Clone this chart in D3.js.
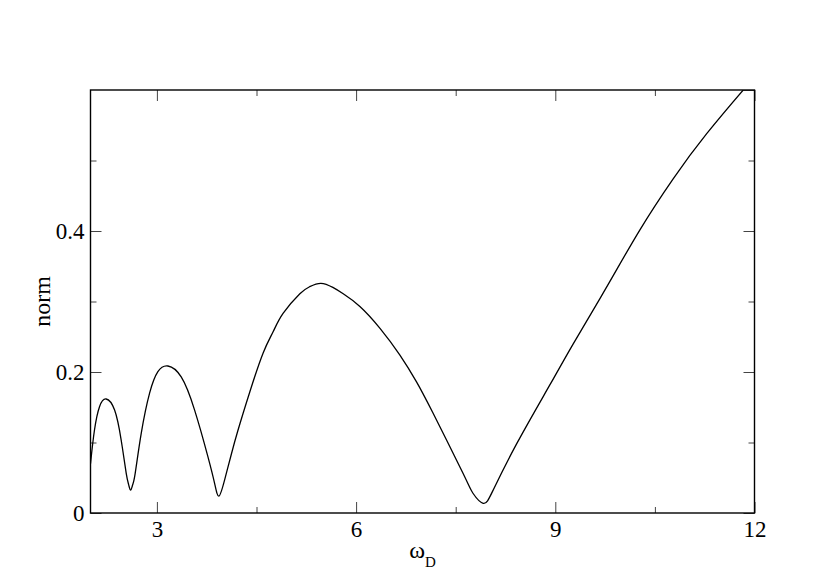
<!DOCTYPE html>
<html>
<head>
<meta charset="utf-8">
<script src="https://cdn.jsdelivr.net/npm/d3@7"></script>
<style>
  body { margin: 0; background: #fff; }
  svg { display: block; }
</style>
</head>
<body>
<svg width="830" height="587"></svg>
<script>
// values
var omega = [2.00, 2.06, 2.137, 2.236, 2.363, 2.462, 2.538, 2.575, 2.604, 2.635, 2.673, 2.764, 2.89,
             3.015, 3.166, 3.366, 3.568, 3.768, 3.869, 3.934, 4.02, 4.12, 4.22, 4.40, 4.60, 4.75, 4.90,
             5.153, 5.30, 5.47, 5.65, 5.806, 6.057, 6.36, 6.66, 6.91, 7.16, 7.61, 7.76, 7.914, 8.065, 8.417, 8.92,
             9.27, 9.77, 10.27, 10.775, 11.28, 11.84, 12.0];
var norm = [0.070, 0.1177, 0.151, 0.1617, 0.146, 0.1035, 0.0563, 0.040, 0.0326, 0.040, 0.0563, 0.113, 0.170,
            0.2005, 0.2085, 0.193, 0.146, 0.080, 0.042, 0.024, 0.047, 0.083, 0.117, 0.172, 0.227, 0.257, 0.283,
            0.311, 0.321, 0.3258, 0.320, 0.311, 0.293, 0.262, 0.224, 0.186, 0.1414, 0.0563, 0.028, 0.0137, 0.0326, 0.098, 0.182,
            0.240, 0.320, 0.401, 0.474, 0.538, 0.601, 0.618];

var xMajor = [3, 6, 9, 12];
var xMinor = [4.5, 7.5, 10.5];
var yMajor = [0, 0.2, 0.4];
var yMinor = [0.1, 0.3, 0.5];
var yMajorAll = [0, 0.2, 0.4, 0.6];

var serif = "'Liberation Serif', 'Times New Roman', Times, serif";

var margin = { top: 90, right: 75.5, bottom: 74, left: 90.5 };
var width = 830 - margin.left - margin.right;
var height = 587 - margin.top - margin.bottom;

var svg = d3.select("svg");
var g = svg.append("g")
	.attr("transform", "translate(" + margin.left + "," + margin.top + ")");

var x = d3.scaleLinear().domain([2, 12]).range([0, width]);
var y = d3.scaleLinear().domain([0, 0.6]).range([height, 0]);

var fmt = function(d) { return d === 0 ? "0" : d3.format(".1f")(d); };

// bottom axis, ticks pointing inward
var xAxis = g.append("g")
	.attr("transform", "translate(0," + height + ")")
	.call(d3.axisBottom(x).tickValues(xMajor).tickSize(-11).tickFormat(d3.format("d")));
xAxis.selectAll(".tick text").attr("y", 24).attr("dy", null);
g.append("g")
	.attr("transform", "translate(0," + height + ")")
	.call(d3.axisBottom(x).tickValues(xMinor).tickSize(-6).tickFormat(""));

// top axis
g.append("g")
	.call(d3.axisTop(x).tickValues(xMajor).tickSize(-11).tickFormat(""));
g.append("g")
	.call(d3.axisTop(x).tickValues(xMinor).tickSize(-6).tickFormat(""));

// left axis
var yAxis = g.append("g")
	.call(d3.axisLeft(y).tickValues(yMajor).tickSize(-11).tickFormat(fmt));
yAxis.selectAll(".tick text").attr("x", -6).attr("dy", "0.33em");
g.append("g")
	.call(d3.axisLeft(y).tickValues(yMinor).tickSize(-6).tickFormat(""));

// right axis
g.append("g")
	.attr("transform", "translate(" + width + ",0)")
	.call(d3.axisRight(y).tickValues(yMajorAll).tickSize(-11).tickFormat(""));
g.append("g")
	.attr("transform", "translate(" + width + ",0)")
	.call(d3.axisRight(y).tickValues(yMinor).tickSize(-6).tickFormat(""));

g.selectAll(".domain").remove();
g.selectAll(".tick line").attr("stroke", "#444").attr("stroke-width", 1);
g.selectAll(".tick text")
	.style("font-family", serif)
	.style("font-size", "23px")
	.attr("fill", "#000");

// clip the curve to the frame
g.append("clipPath").attr("id", "clip")
	.append("rect").attr("width", width).attr("height", height);

var pts = omega.map(function(w, i) { return { w: w, v: norm[i] }; });
var line = d3.line()
	.x(function(d) { return x(d.w); })
	.y(function(d) { return y(d.v); })
	.curve(d3.curveNatural);

g.append("path")
	.datum(pts)
	.attr("clip-path", "url(#clip)")
	.attr("fill", "none")
	.attr("stroke", "#000")
	.attr("stroke-width", 1.3)
	.attr("d", line);

// frame
g.append("rect")
	.attr("width", width)
	.attr("height", height)
	.attr("fill", "none")
	.attr("stroke", "#000")
	.attr("stroke-width", 1.4);

// axis titles
var xt = g.append("text")
	.attr("x", width / 2)
	.attr("y", height + 45)
	.attr("text-anchor", "middle")
	.style("font-family", serif)
	.style("font-size", "24px");
xt.append("tspan").text("ω");
xt.append("tspan").attr("dy", 9).style("font-size", "15px").text("D");

g.append("text")
	.attr("transform", "translate(" + (-40.5) + "," + (height / 2) + ") rotate(-90)")
	.attr("text-anchor", "middle")
	.style("font-family", serif)
	.style("font-size", "24px")
	.text("norm");
</script>
</body>
</html>
